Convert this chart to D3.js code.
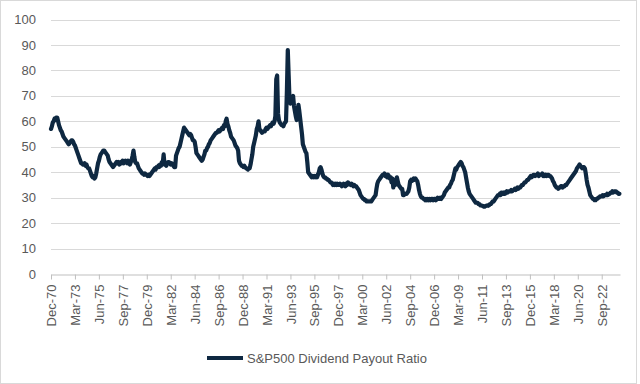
<!DOCTYPE html>
<html>
<head>
  <meta charset="UTF-8">
  <script src="https://d3js.org/d3.v7.min.js"></script>
</head>
<body style="margin:0;background:#fff">
  <svg id="chart"></svg>
<style>
  #chart text {
    font-family: 'Liberation Sans', Arial, sans-serif;
    fill: #595959;
  }
</style>
<script type="text/javascript">
  // monthly S&P500 dividend payout ratio, Dec-70 .. May-24
  const payout = [
    57,                                                         // 1970 Dec
    58, 59.5, 60, 61, 60.5, 61.5, 61.5, 60, 58.5, 57.5, 56.5, 56, // 1971
    55, 54, 53.5, 53, 52.5, 52, 51.5, 51, 51.5, 52, 52.5, 52.5,   // 1972
    52, 51, 50.5, 49.5, 48.5, 47.5, 46.5, 45.5, 44.5, 43.5, 43.5, 43, // 1973
    43, 43.5, 42.5, 43, 42, 41.5, 41.5, 40.5, 39.5, 38.5, 38, 38.5,   // 1974
    37.5, 38, 39.5, 41.5, 43.5, 44.5, 46, 47, 47.5, 48, 48.5, 48.5,   // 1975
    48, 47.5, 47, 46.5, 45, 44, 43.5, 43, 42.5, 42, 42.5, 43,         // 1976
    43.5, 44, 43.5, 44, 43, 43.5, 44, 43.5, 44.5, 43.5, 44, 44.5,     // 1977
    44, 43.5, 44.5, 43.5, 43, 44, 45, 46.5, 48.5, 46, 44, 43.5,       // 1978
    43.5, 42.5, 41.5, 41, 40.5, 40, 39.5, 39.5, 39, 39.5, 39, 39,     // 1979
    38.5, 39, 38.5, 39, 39.5, 40, 40.5, 41, 41.5, 41, 42, 42,         // 1980
    42.5, 42, 43, 42.5, 44, 43.5, 47, 43, 43, 42.5, 43.5, 44,         // 1981
    44, 43.5, 43, 43.5, 43, 42.5, 42, 42, 46.5, 47.5, 48.5, 49.5,     // 1982
    50, 51.5, 53, 54.5, 56, 57.5, 57, 56.5, 56, 55.5, 55, 54.5,       // 1983
    55, 54.5, 53.5, 52.5, 52.5, 52, 50, 47.5, 47, 46.5, 46, 45.5,     // 1984
    45, 44.5, 45, 46, 47, 48.5, 48.5, 49.5, 50, 51, 51.5, 52.5,       // 1985
    53, 53.5, 54, 54.5, 55, 55.5, 55.5, 56, 56.5, 56, 56.5, 57,       // 1986
    57.5, 57, 58.5, 58, 60, 61, 59, 58, 56.5, 55.5, 54, 53.5,         // 1987
    53, 52.5, 51.5, 50.5, 50, 49.5, 48.5, 44.5, 43.5, 43, 42.5, 42.5, // 1988
    42, 42.5, 42, 41.5, 41.5, 41, 41.5, 41.5, 43, 45, 47, 50,         // 1989
    51.5, 53, 54.5, 57, 58, 60, 57, 56.5, 56, 55.5, 56, 56,           // 1990
    56, 57, 57.5, 57, 57.5, 58, 58.5, 58, 59, 59.5, 59, 60,           // 1991
    62, 76.5, 78, 63, 60.5, 59.5, 59, 58.5, 58.5, 58, 59, 59.5,       // 1992
    60, 72, 88, 78, 68, 67, 68.5, 69.5, 70, 66, 64, 62,               // 1993
    60.5, 63, 66.5, 64, 61, 58, 55, 51, 50, 49, 48, 47.5,             // 1994
    44, 40, 39.5, 39, 38.5, 38, 38.5, 38, 38.5, 38, 38.5, 38,         // 1995
    39, 40, 41.5, 42, 41, 39.5, 38.5, 38, 38, 37.5, 37.5, 37,         // 1996
    37, 36.5, 36, 36, 35.5, 35, 35.5, 35, 35.5, 35, 35.5, 35,         // 1997
    35, 35.5, 35, 34.5, 35, 35.5, 35, 34.5, 35.5, 35, 36, 35.5,       // 1998
    35.5, 35, 35.5, 35, 34.5, 35, 34.5, 34.5, 34, 33.5, 33, 32,       // 1999
    31, 30.5, 30, 29.5, 29.5, 29, 29, 28.5, 28.5, 28.5, 28.5, 28.5,   // 2000
    28.5, 29, 29.5, 30, 30.5, 31, 33.5, 35.5, 36.5, 37, 37.5, 38,     // 2001
    38.5, 39, 39, 39.5, 38.5, 39, 38, 39, 38.5, 37.5, 38, 36,         // 2002
    37.5, 34, 35.5, 35, 36.5, 38, 36.5, 35, 34.5, 34, 33.5, 33.5,     // 2003
    31, 31, 31.5, 31.5, 31.5, 32, 32.5, 34, 36.5, 37, 36.5, 37,       // 2004
    37.5, 37, 37.5, 37, 36.5, 35, 33, 31.5, 30.5, 30, 30, 29.5,       // 2005
    29.5, 29, 29.5, 29, 29.5, 29, 29.5, 29, 29.5, 29.5, 29, 29.5,     // 2006
    29.5, 29, 29.5, 30, 29.5, 29.5, 30, 29.5, 30, 30.5, 31, 32,       // 2007
    32.5, 33, 33.5, 34, 34, 35, 35.5, 36.5, 37, 38.5, 40, 41.5,       // 2008
    41, 42, 42.5, 43, 43.5, 44, 43.5, 42.5, 42, 41, 40, 38,           // 2009
    36, 34, 32.5, 31.5, 31, 30.5, 30, 29.5, 29, 28.5, 28, 28,         // 2010
    28, 27.5, 27.5, 27, 27, 26.8, 26.8, 26.5, 26.5, 26.8, 26.8, 27,   // 2011
    26.8, 27, 27.5, 27.5, 28, 28.5, 28.5, 29, 29.5, 30, 30.5, 31,     // 2012
    31, 31.5, 31, 32, 31.5, 31.5, 32, 31.5, 32, 32.5, 32, 32.5,       // 2013
    32.5, 32.5, 33, 32.5, 33, 33, 33.5, 33, 33.5, 34, 33.5, 34,       // 2014
    34, 34.5, 35, 35, 35.5, 36, 36, 36.5, 37, 37, 37.5, 38,           // 2015
    38.5, 38, 38.5, 39, 39, 38.5, 39, 39, 39.5, 38.5, 39, 39,         // 2016
    39, 39.5, 38.5, 39, 38.5, 39, 38.5, 39, 39, 38.5, 38.5, 38,       // 2017
    37.5, 36.5, 36, 35, 34.5, 34, 34, 33.5, 34, 34, 34.5, 34.5,       // 2018
    34, 34.5, 34.5, 35, 35, 35.5, 36, 36.5, 37, 37.5, 38, 38.5,       // 2019
    39, 39.5, 40, 40.5, 41.5, 42, 42.5, 43, 42.5, 42, 41.5, 42,       // 2020
    42, 41.5, 39.5, 37, 35, 34, 32.5, 31, 30.5, 30, 29.5, 29.5,       // 2021
    29, 29, 29.5, 29.5, 30, 30, 30.5, 30.5, 30.5, 31, 30.5, 31,       // 2022
    31, 31, 31.5, 31, 31.5, 31.5, 32, 32, 32.5, 32, 32.5, 32.5,       // 2023
    32.5, 32, 32, 31.5, 31.5                                          // 2024
  ];
  const tickLabels = ['Dec-70','Mar-73','Jun-75','Sep-77','Dec-79','Mar-82','Jun-84','Sep-86',
    'Dec-88','Mar-91','Jun-93','Sep-95','Dec-97','Mar-00','Jun-02','Sep-04','Dec-06','Mar-09',
    'Jun-11','Sep-13','Dec-15','Mar-18','Jun-20','Sep-22'];
  const tickStep = 27; // months between labels
  const yTicks = [0, 10, 20, 30, 40, 50, 60, 70, 80, 90, 100];
  const seriesName = 'S&P500 Dividend Payout Ratio';

  const width = 640, height = 384;
  const margin = { top: 19.5, right: 20, bottom: 110, left: 51 };

  const svg = d3.select('#chart')
    .attr('width', width)
    .attr('height', height);

  // chart border
  svg.append('rect')
    .attr('x', 0.5).attr('y', 0.5)
    .attr('width', 636).attr('height', 383)
    .attr('fill', '#fff')
    .attr('stroke', '#d9d9d9');

  const data = payout.map((v, i) => ({ m: i, v: v }));

  const x = d3.scaleLinear()
    .domain([0, 641.6])
    .range([margin.left, width - margin.right]);
  const y = d3.scaleLinear()
    .domain([0, 100])
    .range([274, margin.top]);

  // gridlines
  svg.append('g')
    .selectAll('line')
    .data(yTicks.filter(d => d > 0))
    .join('line')
    .attr('x1', x.range()[0]).attr('x2', x.range()[1])
    .attr('y1', d => Math.round(y(d)) + 0.5).attr('y2', d => Math.round(y(d)) + 0.5)
    .attr('stroke', '#d9d9d9')
    .attr('stroke-width', 1);

  // y labels
  svg.append('g')
    .selectAll('text')
    .data(yTicks)
    .join('text')
    .attr('x', 36)
    .attr('y', d => y(d))
    .attr('dy', '0.35em')
    .attr('text-anchor', 'end')
    .style('font-size', '13px')
    .text(d => d);

  // x axis
  const xAxis = d3.axisBottom(x)
    .tickValues(tickLabels.map((d, i) => i * tickStep))
    .tickFormat((d, i) => tickLabels[i])
    .tickSize(5)
    .tickSizeOuter(0);

  const gx = svg.append('g')
    .attr('transform', `translate(0,${Math.round(y(0)) + 0.5})`)
    .call(xAxis);
  gx.select('.domain').attr('stroke', '#bfbfbf');
  gx.selectAll('.tick line').attr('stroke', '#bfbfbf');
  gx.selectAll('.tick text')
    .attr('transform', 'rotate(-90)')
    .attr('x', -10)
    .attr('y', 0)
    .attr('dy', '0.35em')
    .attr('text-anchor', 'end')
    .style('font-size', '13px')
    .style('font-family', "'Liberation Sans', Arial, sans-serif")
    .attr('fill', '#595959');

  // series line
  const line = d3.line()
    .x(d => x(d.m))
    .y(d => y(d.v));

  svg.append('path')
    .datum(data)
    .attr('fill', 'none')
    .attr('stroke', '#0e2841')
    .attr('stroke-width', 4.2)
    .attr('stroke-linejoin', 'round')
    .attr('stroke-linecap', 'round')
    .attr('d', line);

  // legend
  const legend = svg.append('g').attr('transform', 'translate(207,358)');
  legend.append('line')
    .attr('x1', 0).attr('x2', 36)
    .attr('stroke', '#0e2841')
    .attr('stroke-width', 4);
  legend.append('text')
    .attr('x', 40)
    .attr('dy', '0.35em')
    .style('font-size', '13px')
    .text(seriesName);
</script>
</body>
</html>
